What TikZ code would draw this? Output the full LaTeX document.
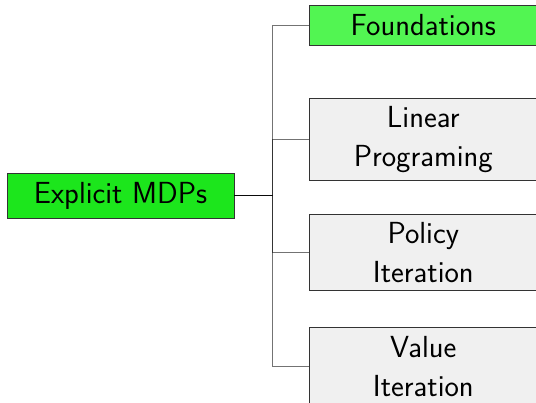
\documentclass[tikz,border=0pt]{standalone}
\begin{document}
\begin{tikzpicture}[x=1pt,y=-1pt,
  every node/.style={font=\sffamily\fontsize{30.5}{38.4}\selectfont},
  box/.style={draw=black!80,line width=0.8pt,inner sep=0pt,align=center,
    minimum width=228.5pt},
  rootbox/.style={box,fill=rootgreen,minimum width=227pt,minimum height=45pt},
  topicbox/.style={box,fill=topicgreen,minimum height=40pt},
  plainbox/.style={box,fill=boxgray},
  link/.style={draw=black,line width=0.9pt,opacity=0.55}]
\definecolor{rootgreen}{RGB}{28,230,28}
\definecolor{topicgreen}{RGB}{82,245,82}
\definecolor{boxgray}{RGB}{240,240,240}
\useasboundingbox (0,0) rectangle (536,403);

\node[rootbox] (root) at (120.5,195.5) {Explicit MDPs};
\node[topicbox] (found) at (423.25,25.5) {Foundations};
\node[plainbox,minimum height=82pt] (lp) at (423.25,139.5) {Linear\\Programing};
\node[plainbox,minimum height=76pt] (pi) at (423.25,252.5) {Policy\\Iteration};
\node[plainbox,minimum height=78pt] (vi) at (423.25,366.5) {Value\\Iteration};

\coordinate (fork) at (272,195.5);
\foreach \child in {found,lp,pi,vi}
  \draw[link] (root.east) -- (fork) |- (\child.west);
\end{tikzpicture}
\end{document}
